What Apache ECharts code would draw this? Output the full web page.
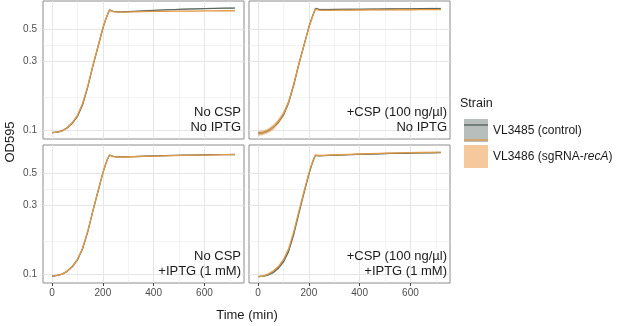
<!DOCTYPE html>
<html>
<head>
<meta charset="utf-8">
<script src="https://cdn.jsdelivr.net/npm/echarts@6/dist/echarts.min.js"></script>
<style>
html,body{margin:0;padding:0;background:#fff;}
#main{width:617px;height:326px;}
</style>
</head>
<body>
<div id="main"></div>
<script>
// time (min)
var time = [0,20,40,60,80,100,120,140,160,180,200,210,220,226,240,260,280,320,360,400,440,480,520,560,600,640,680,720];

// No CSP / No IPTG
var ctrl1 = [0.096,0.097,0.099,0.104,0.112,0.125,0.150,0.198,0.276,0.375,0.510,0.580,0.645,0.684,0.668,0.662,0.662,0.668,0.674,0.679,0.684,0.688,0.692,0.695,0.698,0.701,0.703,0.705];
var reca1 = [0.096,0.097,0.099,0.104,0.113,0.127,0.153,0.201,0.280,0.378,0.512,0.580,0.645,0.682,0.666,0.661,0.660,0.664,0.666,0.668,0.669,0.670,0.671,0.672,0.673,0.674,0.675,0.675];
var ctrlSd1 = [0.001,0.001,0.001,0.001,0.002,0.002,0.002,0.003,0.004,0.005,0.006,0.006,0.006,0.005,0.004,0.004,0.004,0.004,0.004,0.004,0.004,0.005,0.005,0.005,0.005,0.005,0.005,0.005];
var recaSd1 = [0.001,0.001,0.001,0.002,0.002,0.002,0.003,0.004,0.005,0.006,0.007,0.007,0.007,0.006,0.004,0.003,0.003,0.003,0.003,0.003,0.003,0.003,0.003,0.003,0.003,0.003,0.003,0.003];

// +CSP / No IPTG
var ctrl2 = [0.095,0.096,0.099,0.105,0.114,0.128,0.155,0.205,0.285,0.385,0.520,0.590,0.660,0.700,0.690,0.688,0.688,0.689,0.690,0.691,0.692,0.693,0.694,0.695,0.696,0.697,0.698,0.699];
var reca2 = [0.095,0.096,0.099,0.105,0.115,0.130,0.157,0.207,0.287,0.385,0.518,0.585,0.655,0.693,0.682,0.680,0.680,0.681,0.682,0.683,0.684,0.684,0.685,0.686,0.686,0.687,0.687,0.688];
var ctrlSd2 = [0.002,0.002,0.002,0.002,0.003,0.003,0.004,0.005,0.006,0.007,0.008,0.008,0.008,0.008,0.008,0.008,0.008,0.009,0.009,0.009,0.009,0.009,0.009,0.009,0.009,0.009,0.009,0.009];
var recaSd2 = [0.004,0.004,0.004,0.005,0.005,0.006,0.007,0.008,0.009,0.010,0.010,0.009,0.008,0.006,0.005,0.005,0.005,0.005,0.005,0.005,0.005,0.005,0.005,0.005,0.005,0.005,0.005,0.005];

// No CSP / +IPTG
var ctrl3 = [0.097,0.098,0.100,0.105,0.113,0.126,0.150,0.196,0.272,0.372,0.505,0.575,0.640,0.672,0.658,0.654,0.654,0.656,0.659,0.662,0.665,0.668,0.670,0.672,0.674,0.676,0.677,0.678];
var reca3 = [0.097,0.098,0.100,0.105,0.113,0.127,0.152,0.198,0.274,0.373,0.505,0.575,0.640,0.670,0.655,0.651,0.651,0.654,0.657,0.660,0.663,0.666,0.668,0.670,0.672,0.674,0.676,0.677];
var ctrlSd3 = [0.001,0.001,0.001,0.001,0.002,0.002,0.002,0.003,0.003,0.004,0.004,0.004,0.004,0.004,0.004,0.004,0.004,0.004,0.004,0.004,0.004,0.004,0.004,0.004,0.004,0.004,0.004,0.004];
var recaSd3 = [0.001,0.001,0.001,0.001,0.002,0.002,0.002,0.003,0.003,0.004,0.004,0.004,0.004,0.004,0.004,0.004,0.004,0.004,0.004,0.004,0.004,0.004,0.004,0.004,0.004,0.004,0.004,0.004];

// +CSP / +IPTG
var ctrl4 = [0.096,0.097,0.099,0.103,0.110,0.122,0.144,0.188,0.262,0.362,0.495,0.565,0.635,0.668,0.664,0.666,0.668,0.672,0.676,0.680,0.683,0.686,0.689,0.691,0.693,0.695,0.697,0.698];
var reca4 = [0.096,0.097,0.100,0.105,0.113,0.126,0.150,0.196,0.272,0.372,0.505,0.575,0.642,0.672,0.667,0.669,0.671,0.675,0.679,0.683,0.687,0.690,0.693,0.696,0.698,0.700,0.702,0.704];
var ctrlSd4 = [0.001,0.001,0.002,0.002,0.002,0.003,0.003,0.004,0.005,0.005,0.006,0.006,0.006,0.005,0.005,0.005,0.005,0.005,0.005,0.005,0.005,0.005,0.005,0.005,0.005,0.005,0.005,0.005];
var recaSd4 = [0.001,0.001,0.002,0.002,0.002,0.003,0.003,0.004,0.005,0.005,0.006,0.006,0.006,0.005,0.005,0.005,0.005,0.005,0.005,0.005,0.005,0.005,0.005,0.005,0.005,0.005,0.005,0.005];

var panelText = ['No CSP\nNo IPTG', '+CSP (100 ng/\u00b5l)\nNo IPTG', 'No CSP\n+IPTG (1 mM)', '+CSP (100 ng/\u00b5l)\n+IPTG (1 mM)'];
var strains = ['VL3485 (control)', 'VL3486 (sgRNA-recA)'];
var xTicks = [0,200,400,600];
var xMinor = [100,300,500,700];
var yTicks = [0.1,0.3,0.5];
var yMinor = [0.173,0.387];

var ctrlData = [ctrl1, ctrl2, ctrl3, ctrl4];
var recaData = [reca1, reca2, reca3, reca4];
var ctrlSd = [ctrlSd1, ctrlSd2, ctrlSd3, ctrlSd4];
var recaSd = [recaSd1, recaSd2, recaSd3, recaSd4];

var FONT = 'Liberation Sans';
var ctrlColor = '#58685f';
var recaColor = '#e39a48';

function pts(v) { return time.map(function (t, i) { return [t, v[i]]; }); }

// mean +/- sd band drawn as one polygon through the axis scales
function ribbon(i, m, s, color) {
    return {
        type: 'custom', xAxisIndex: i, yAxisIndex: i, silent: true, z: 2, clip: true,
        data: time.map(function (t, k) { return [t, m[k] - s[k], m[k] + s[k]]; }),
        encode: {x: 0, y: [1, 2]},
        renderItem: function (params, api) {
            if (params.dataIndex !== 0) return;
            var up = [], dn = [];
            for (var k = 0; k < time.length; k++) {
                up.push(api.coord([time[k], m[k] + s[k]]));
                dn.push(api.coord([time[k], m[k] - s[k]]));
            }
            return {type: 'polygon', shape: {points: up.concat(dn.reverse())},
                style: {fill: color, opacity: 0.45}};
        }
    };
}

var gridPos = [
    {left: 43, top: 1, width: 201, height: 138},
    {left: 249, top: 1, width: 201, height: 138},
    {left: 43, top: 145, width: 201, height: 138},
    {left: 249, top: 145, width: 201, height: 138}
];

var grids = [], xAxes = [], yAxes = [], series = [], graphics = [];

// grid lines, drawn through the axes
var gl = [];
xTicks.forEach(function (v) { gl.push({xAxis: v, lineStyle: {width: 1}}); });
xMinor.forEach(function (v) { gl.push({xAxis: v, lineStyle: {width: 0.5}}); });
yTicks.forEach(function (v) { gl.push({yAxis: v, lineStyle: {width: 1}}); });
yMinor.forEach(function (v) { gl.push({yAxis: v, lineStyle: {width: 0.5}}); });

for (var i = 0; i < 4; i++) {
    var g = gridPos[i];
    grids.push({left: g.left, top: g.top, width: g.width, height: g.height, show: true,
        borderColor: '#8c8c8c', borderWidth: 1, backgroundColor: '#fff', containLabel: false});
    xAxes.push({
        type: 'value', gridIndex: i, min: -36, max: 756,
        splitLine: {show: false}, axisLine: {show: false},
        axisTick: {show: i >= 2, length: 3, customValues: xTicks, lineStyle: {color: '#444'}},
        axisLabel: {show: i >= 2, customValues: xTicks, fontSize: 10, color: '#4d4d4d', margin: 5, fontFamily: FONT}
    });
    yAxes.push({
        type: 'log', logBase: 10, gridIndex: i, min: 0.0868, max: 0.789,
        splitLine: {show: false}, minorSplitLine: {show: false}, axisLine: {show: false},
        axisTick: {show: i % 2 === 0, length: 3, customValues: yTicks, lineStyle: {color: '#444'}},
        axisLabel: {show: i % 2 === 0, customValues: yTicks, fontSize: 10, color: '#4d4d4d', margin: 6, fontFamily: FONT,
            formatter: function (v) { return String(Math.round(v * 10) / 10); }}
    });

    series.push(ribbon(i, ctrlData[i], ctrlSd[i], ctrlColor));
    series.push(ribbon(i, recaData[i], recaSd[i], recaColor));
    series.push({name: strains[0], type: 'line', xAxisIndex: i, yAxisIndex: i, data: pts(ctrlData[i]),
        symbol: 'none', lineStyle: {color: ctrlColor, width: 1.3}, itemStyle: {color: ctrlColor}, z: 3,
        markLine: {silent: true, symbol: ['none', 'none'], z: 1, animation: false, label: {show: false},
            lineStyle: {color: '#e6e6e6', type: 'solid'}, data: gl}});
    series.push({name: strains[1], type: 'line', xAxisIndex: i, yAxisIndex: i, data: pts(recaData[i]),
        symbol: 'none', lineStyle: {color: recaColor, width: 1.3}, itemStyle: {color: recaColor}, z: 4});

    graphics.push({type: 'text', z: 10, style: {
        text: panelText[i], x: g.left + g.width - 3, y: g.top + 134.5,
        textAlign: 'right', textVerticalAlign: 'bottom',
        font: '13px "' + FONT + '"', lineHeight: 15.5, fill: '#1a1a1a'}});
}

graphics.push({type: 'text', style: {text: 'Time (min)', x: 247, y: 315, textAlign: 'center', textVerticalAlign: 'middle',
    font: '13px "' + FONT + '"', fill: '#1a1a1a'}});
graphics.push({type: 'text', rotation: Math.PI / 2, x: 10, y: 142, style: {text: 'OD595', x: 0, y: 0,
    textAlign: 'center', textVerticalAlign: 'middle', font: '13px "' + FONT + '"', fill: '#1a1a1a'}});
graphics.push({type: 'text', style: {text: 'Strain', x: 460, y: 97, textAlign: 'left', textVerticalAlign: 'top',
    font: '12.5px "' + FONT + '"', fill: '#1a1a1a'}});

function legendFmt(name) {
    if (name === strains[1]) return '{n|VL3486 (sgRNA-}{i|recA}{n|)}';
    return '{n|' + name + '}';
}

var myChart = echarts.init(document.getElementById('main'));
myChart.setOption({
    animation: false,
    grid: grids,
    xAxis: xAxes,
    yAxis: yAxes,
    legend: [
        {
            orient: 'vertical', left: 459, top: 114, itemWidth: 24, itemHeight: 23, itemGap: 3,
            icon: 'rect', selectedMode: false,
            data: [
                {name: strains[0], itemStyle: {color: '#b7bebb'}},
                {name: strains[1], itemStyle: {color: '#f5c99b'}}
            ],
            formatter: legendFmt,
            textStyle: {fontSize: 12, color: '#1a1a1a', fontFamily: FONT,
                rich: {n: {fontSize: 12, fontFamily: FONT}, i: {fontSize: 12, fontFamily: FONT, fontStyle: 'italic'}}}
        },
        {
            orient: 'vertical', left: 459, top: 114, itemWidth: 24, itemHeight: 23, itemGap: 3,
            icon: 'path://M0,0H24V1.4H0Z', selectedMode: false,
            data: [
                {name: strains[0], itemStyle: {color: ctrlColor}},
                {name: strains[1], itemStyle: {color: recaColor}}
            ],
            formatter: legendFmt,
            textStyle: {fontSize: 12, color: 'rgba(0,0,0,0)', fontFamily: FONT,
                rich: {n: {fontSize: 12, fontFamily: FONT}, i: {fontSize: 12, fontFamily: FONT, fontStyle: 'italic'}}}
        }
    ],
    graphic: graphics,
    series: series
});
</script>
</body>
</html>
